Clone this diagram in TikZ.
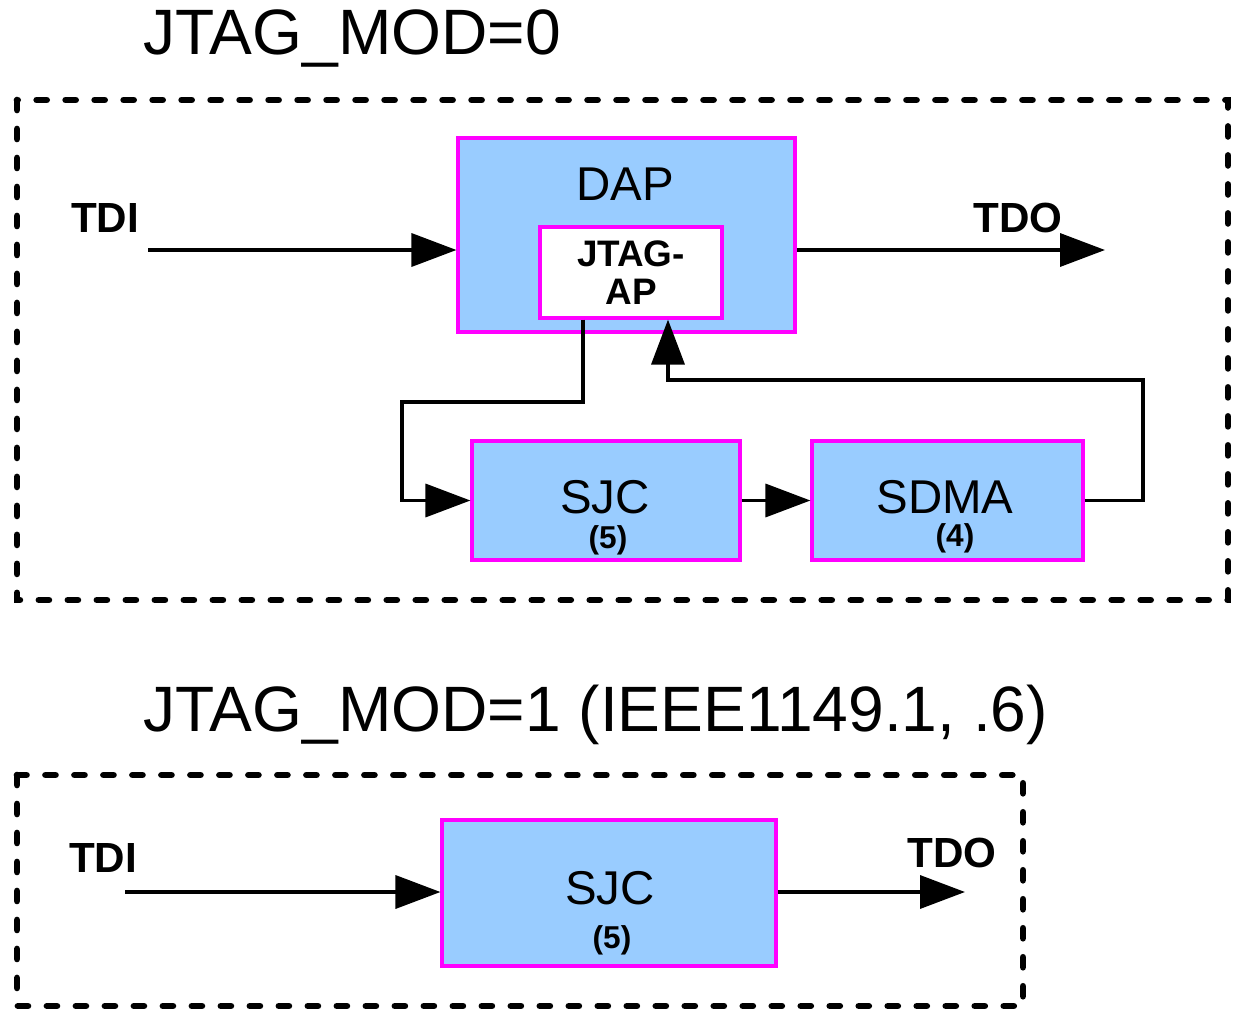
\documentclass[tikz,border=0pt]{standalone}
\usepackage{fontspec}
\setmainfont{Liberation Sans}
\usepackage{xcolor}
\usepackage{tikz}
\usetikzlibrary{arrows.meta,positioning}
\definecolor{boxblue}{HTML}{99CCFF}
\definecolor{boxedge}{HTML}{FF00FF}
\begin{document}
\begin{tikzpicture}[x=0.02cm,y=-0.02cm,
blk/.style={draw=boxedge,line width=1.8pt,fill=boxblue,inner sep=0pt},
conn/.style={line width=2pt,-{Triangle[length=0.9cm,width=0.66cm]}},
grp/.style={line width=3.8pt,line cap=round,dash pattern=on 0.2cm off 0.38cm},
title/.style={font=\fontsize{36.5}{40}\selectfont,anchor=west,inner sep=0pt},
pin/.style={font=\bfseries\fontsize{24}{26}\selectfont,inner sep=0pt},
big/.style={font=\fontsize{27}{30}\selectfont,inner sep=0pt},
num/.style={font=\bfseries\fontsize{18}{20}\selectfont,inner sep=0pt}]
\useasboundingbox(0,0)rectangle(1235,1011);
% upper part: JTAG_MOD=0
\node[title](title0)at(143,38){JTAG\_MOD=0};
\draw[grp](17,100)rectangle(1228,600);
\node[blk,minimum width=6.74cm,minimum height=3.88cm](dap)at(626.5,235){};
\node[big](daptxt)at(625,184){DAP};
\node[blk,fill=white,minimum width=3.64cm,minimum height=1.82cm,align=center,
font=\bfseries\fontsize{21}{22}\selectfont](jtagap)at(631,272.5){JTAG-\\AP};
\node[blk,minimum width=5.36cm,minimum height=2.38cm](sjc)at(606,500.5){};
\node[big](sjctxt)at(605,497){SJC};
\node[num](sjcnum)at(608,540){(5)};
\node[blk,minimum width=5.42cm,minimum height=2.38cm](sdma)at(947.5,500.5){};
\node[big](sdmatxt)at(945,497){SDMA};
\node[num](sdmanum)at(955,538){(4)};
\node[pin](tdi)at(105,218){TDI};
\node[pin](tdo)at(1018,218){TDO};
\coordinate(tdiin)at(148,250);
\coordinate(tdoout)at(1105,250);
\draw[conn](tdiin)--(tdiin-|dap.west);
\draw[conn](dap.east|-tdoout)--(tdoout);
\draw[conn]([xshift=-0.96cm]jtagap.south)|-(402,402)|-(sjc.west);
\draw[conn](sjc)--(sdma);
\draw[conn](sdma.east)-|(1143,380)-|([xshift=0.74cm]jtagap.south);
% lower part: JTAG_MOD=1
\node[title](title1)at(143,715){JTAG\_MOD=1 (IEEE1149.1, .6)};
\draw[grp](17,775)rectangle(1023,1006);
\node[blk,minimum width=6.68cm,minimum height=2.92cm](sjcb)at(609,893){};
\node[big](sjcbtxt)at(610,888){SJC};
\node[num](sjcbnum)at(612,940){(5)};
\node[pin](tdib)at(103,858){TDI};
\node[pin](tdob)at(952,853){TDO};
\coordinate(tdibin)at(125,892);
\coordinate(tdobout)at(965,892);
\draw[conn](tdibin)--(tdibin-|sjcb.west);
\draw[conn](sjcb.east|-tdobout)--(tdobout);
\end{tikzpicture}
\end{document}
